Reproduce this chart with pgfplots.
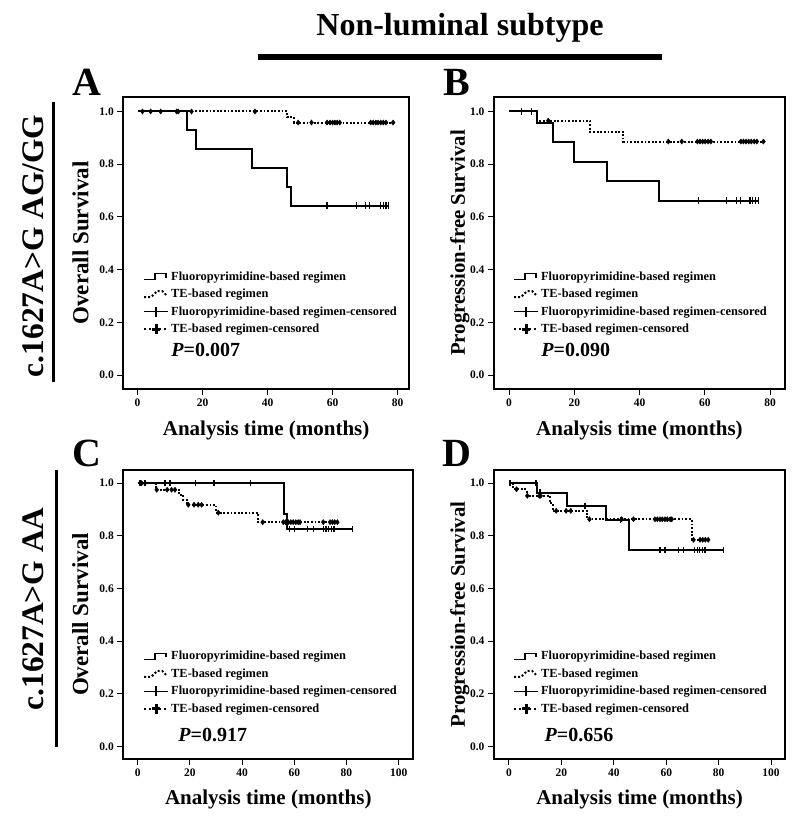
\documentclass[border=0pt]{standalone}
\usepackage{fontspec}
\setmainfont{Liberation Serif}
\usepackage{pgfplots}
\pgfplotsset{compat=1.18}

\tikzset{letter/.style={inner sep=0pt, anchor=base, font=\bfseries\fontsize{40}{42}\selectfont}}

\pgfplotsset{
  km/.style={
    scale only axis,
    axis line style={line width=1.8pt},
    tick pos=left,
    tick align=outside,
    major tick length=6pt,
    tick style={line width=1pt, black},
    /pgf/number format/assume math mode=true,
    tick label style={font=\bfseries\fontsize{11.5}{13}\selectfont},
    ytick={0,0.2,0.4,0.6,0.8,1.0},
    yticklabel style={/pgf/number format/fixed, /pgf/number format/fixed zerofill, /pgf/number format/precision=1},
    xlabel={Analysis time (months)},
    xlabel style={font=\bfseries\fontsize{21}{24}\selectfont, at={(axis description cs:0.5,-0.141)}, anchor=center},
    ylabel style={anchor=center},
    legend cell align=left,
    legend style={draw=none, fill=none, inner sep=0pt, row sep=3.4pt,
      font=\bfseries\fontsize{12.4}{14}\selectfont,
      /tikz/every even column/.append style={column sep=4pt}},
    clip=false,
  },
  solidkm/.style={const plot, line width=2pt, black, forget plot},
  dotkm/.style={const plot, line width=2pt, black, dash pattern=on 1.8pt off 1.8pt, forget plot},
  solidcens/.style={only marks, mark=|, mark size=3.2pt, mark options={line width=1.3pt, solid}, black, forget plot},
  dotcens/.style={only marks, mark=diamond*, mark size=2.6pt, mark options={solid}, black, forget plot},
}

\newcommand{\kmlegend}{%
  \addlegendimage{legend image code/.code={\draw[line width=1.8pt] (0pt,-3pt) -- (11pt,-3pt) -- (11pt,3pt) -- (22pt,3pt) -- (22pt,-1pt);}}
  \addlegendentry{Fluoropyrimidine-based regimen}
  \addlegendimage{legend image code/.code={\draw[line width=2pt, dash pattern=on 2pt off 2pt] (0pt,-3pt) -- (7pt,-3pt) -- (10pt,0pt) -- (13pt,3pt) -- (18pt,3pt) -- (22pt,-1pt);}}
  \addlegendentry{TE-based regimen}
  \addlegendimage{legend image code/.code={\draw[line width=1.8pt] (0pt,0pt) -- (24pt,0pt); \draw[line width=2.4pt] (12pt,-5pt) -- (12pt,5pt);}}
  \addlegendentry{Fluoropyrimidine-based regimen-censored}
  \addlegendimage{legend image code/.code={\draw[line width=2pt, dash pattern=on 2pt off 3pt] (0pt,0pt) -- (24pt,0pt); \draw[line width=2.8pt] (12pt,-5pt) -- (12pt,5pt); \draw[line width=3pt] (8pt,0pt) -- (16pt,0pt);}}
  \addlegendentry{TE-based regimen-censored}
}

\begin{document}
\begin{tikzpicture}
\path[use as bounding box] (0pt,0pt) rectangle (800pt,826pt);

% title and bar
\node[font=\bfseries\fontsize{32}{36}\selectfont] at (460pt,798pt) {Non-luminal subtype};
\draw[line width=6pt] (258pt,769pt) -- (662pt,769pt);

% row labels
\node[rotate=90, font=\bfseries\fontsize{31.4}{34}\selectfont] at (33pt,580pt) {c.1627A>G AG/GG};
\draw[line width=3pt] (53pt,724pt) -- (53pt,444pt);
\node[rotate=90, font=\bfseries\fontsize{31.4}{34}\selectfont] at (33pt,217pt) {c.1627A>G AA};
\draw[line width=3pt] (56pt,356pt) -- (56pt,79pt);

% panel letters
\node[letter] at (86.5pt,730pt) {A};
\node[letter] at (457pt,730pt) {B};
\node[letter] at (86.5pt,359pt) {C};
\node[letter] at (457pt,359pt) {D};

% ---------------- Panel A ----------------
\begin{axis}[km, at={(123.3pt,437pt)}, anchor=south west,
  width=285.7pt, height=292pt,
  xmin=-4.4, xmax=83.5, ymin=-0.053, ymax=1.055,
  xtick={0,20,40,60,80},
  ylabel={Overall Survival},
  ylabel style={font=\bfseries\fontsize{23}{26}\selectfont, at={(axis description cs:-0.150,0.5)}},
  legend style={at={(axis description cs:0.069,0.41)}, anchor=north west}]
\addplot[solidkm] coordinates {(0,1) (15.1,0.929) (18.1,0.857) (35.3,0.786) (46.1,0.714) (47.3,0.643) (77.1,0.643)};
\addplot[dotkm] coordinates {(0,1) (46,0.979) (48,0.958) (78.6,0.958)};
\addplot[solidcens] coordinates {(58.3,0.643) (67.4,0.643) (70.2,0.643) (71.3,0.643) (74.8,0.643) (75.6,0.643) (76.4,0.643) (77.1,0.643)};
\addplot[dotcens] coordinates {(1.5,1) (4,1) (7.1,1) (12,1) (12.5,1) (16.6,1) (36.1,1)
 (49.4,0.958) (53.5,0.958) (58.3,0.958) (59.2,0.958) (60,0.958) (60.7,0.958) (61.4,0.958) (62.2,0.958)
 (71.7,0.958) (72.5,0.958) (73.3,0.958) (74,0.958) (74.8,0.958) (75.6,0.958) (76.4,0.958) (78.6,0.958)};
\kmlegend
\node[anchor=west, font=\bfseries\fontsize{20}{22}\selectfont] at (axis description cs:0.156,0.134) {\itshape P\upshape=0.007};
\end{axis}

% ---------------- Panel B ----------------
\begin{axis}[km, at={(494pt,437pt)}, anchor=south west,
  width=290.9pt, height=292pt,
  xmin=-4.6, xmax=84.5, ymin=-0.053, ymax=1.055,
  xtick={0,20,40,60,80},
  ylabel={Progression-free Survival},
  ylabel style={font=\bfseries\fontsize{20.8}{24}\selectfont, at={(axis description cs:-0.117,0.5)}},
  legend style={at={(axis description cs:0.065,0.41)}, anchor=north west}]
\addplot[solidkm] coordinates {(0,1) (8.7,0.957) (13.4,0.883) (19.9,0.81) (29.9,0.736) (45.9,0.662) (76.4,0.662)};
\addplot[dotkm] coordinates {(0,1) (8.7,0.965) (24.8,0.923) (35,0.886) (77.9,0.886)};
\addplot[solidcens] coordinates {(3.9,1) (6.9,1) (58,0.662) (66.7,0.662) (69.7,0.662) (70.8,0.662) (73.8,0.662) (74.6,0.662) (75.4,0.662) (76.4,0.662)};
\addplot[dotcens] coordinates {(12,0.965) (48.8,0.886) (52.9,0.886) (57.7,0.886) (58.5,0.886) (59.3,0.886) (60.1,0.886) (61,0.886) (61.8,0.886)
 (71,0.886) (71.8,0.886) (72.6,0.886) (73.4,0.886) (74.2,0.886) (75.1,0.886) (75.9,0.886) (77.9,0.886)};
\kmlegend
\node[anchor=west, font=\bfseries\fontsize{20}{22}\selectfont] at (axis description cs:0.151,0.134) {\itshape P\upshape=0.090};
\end{axis}

% ---------------- Panel C ----------------
\begin{axis}[km, at={(123.3pt,67pt)}, anchor=south west,
  width=290pt, height=289pt,
  xmin=-5.5, xmax=105.6, ymin=-0.047, ymax=1.05,
  xtick={0,20,40,60,80,100},
  ylabel={Overall Survival},
  ylabel style={font=\bfseries\fontsize{23}{26}\selectfont, at={(axis description cs:-0.148,0.5)}},
  legend style={at={(axis description cs:0.068,0.38)}, anchor=north west}]
\addplot[solidkm] coordinates {(0,1) (56.1,0.883) (57.1,0.825) (82.4,0.825)};
\addplot[dotkm] coordinates {(0,1) (7,0.975) (15.9,0.956) (17.5,0.937) (18.8,0.918) (30,0.888) (46,0.852) (76.5,0.852)};
\addplot[solidcens] coordinates {(0.9,1) (2.8,1) (10.5,1) (12.4,1) (22.2,1) (29.2,1) (43.3,1)
 (58.1,0.825) (60,0.825) (65,0.825) (67.3,0.825) (71.1,0.825) (72.1,0.825) (73.2,0.825) (74.2,0.825) (75.2,0.825) (82.4,0.825)};
\addplot[dotcens] coordinates {(1.5,1) (2.8,1) (7.3,0.975) (11.3,0.975) (13,0.975) (14.3,0.975)
 (19.4,0.918) (21.6,0.918) (23.2,0.918) (24.5,0.918) (30.9,0.888)
 (47.9,0.852) (55.8,0.852) (56.7,0.852) (57.7,0.852) (58.7,0.852) (59.6,0.852) (60.6,0.852) (61.5,0.852) (62.2,0.852)
 (71.1,0.852) (73.7,0.852) (74.6,0.852) (75.5,0.852) (76.5,0.852)};
\kmlegend
\node[anchor=west, font=\bfseries\fontsize{20}{22}\selectfont] at (axis description cs:0.178,0.083) {\itshape P\upshape=0.917};
\end{axis}

% ---------------- Panel D ----------------
\begin{axis}[km, at={(494pt,67pt)}, anchor=south west,
  width=291pt, height=289pt,
  xmin=-5.7, xmax=105.3, ymin=-0.047, ymax=1.05,
  xtick={0,20,40,60,80,100},
  ylabel={Progression-free Survival},
  ylabel style={font=\bfseries\fontsize{20.8}{24}\selectfont, at={(axis description cs:-0.117,0.5)}},
  legend style={at={(axis description cs:0.065,0.38)}, anchor=north west}]
\addplot[solidkm] coordinates {(0,1) (10.8,0.964) (22.3,0.914) (37,0.861) (45.7,0.746) (81.8,0.746)};
\addplot[dotkm] coordinates {(0,1) (1.5,0.977) (6.7,0.952) (15.6,0.924) (16.7,0.895) (29.9,0.863) (69.7,0.785) (76,0.785)};
\addplot[solidcens] coordinates {(0.4,1) (10.3,1) (11.8,0.964) (29,0.914) (42.6,0.861)
 (57.6,0.746) (59.5,0.746) (64.6,0.746) (66.5,0.746) (70.7,0.746) (71.8,0.746) (72.8,0.746) (73.8,0.746) (74.8,0.746) (81.8,0.746)};
\addplot[dotcens] coordinates {(2.9,0.977) (7,0.952) (11.6,0.952) (12.1,0.952) (18,0.895) (21.8,0.895) (23.6,0.895)
 (30.7,0.863) (43,0.863) (47.5,0.863) (55.7,0.863) (56.6,0.863) (57.6,0.863) (58.5,0.863) (59.5,0.863) (60.4,0.863) (61.5,0.863) (62.1,0.863)
 (70.4,0.785) (72.9,0.785) (73.9,0.785) (74.9,0.785) (76,0.785)};
\kmlegend
\node[anchor=west, font=\bfseries\fontsize{20}{22}\selectfont] at (axis description cs:0.162,0.083) {\itshape P\upshape=0.656};
\end{axis}
\end{tikzpicture}
\end{document}
